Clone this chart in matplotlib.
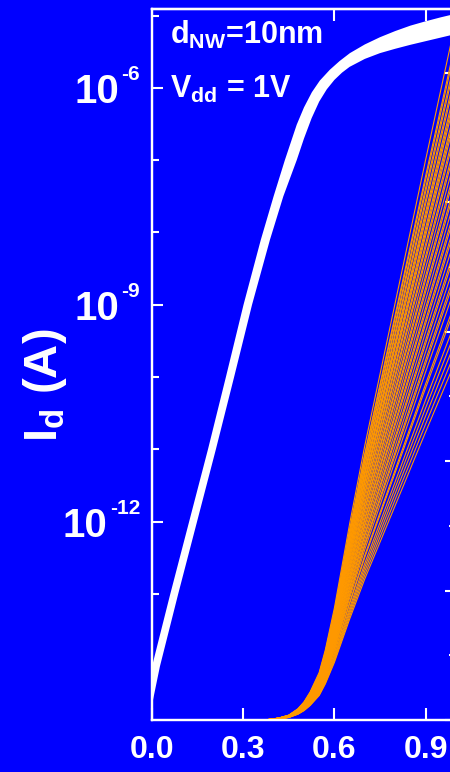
import numpy as np
import matplotlib
matplotlib.use('Agg')
import matplotlib.pyplot as plt
from matplotlib.ticker import FixedLocator, NullFormatter, MultipleLocator

plt.rcParams['font.family'] = ['Liberation Sans', 'DejaVu Sans']
plt.rcParams['font.weight'] = 'bold'
plt.rcParams['mathtext.fontset'] = 'custom'
plt.rcParams['mathtext.rm'] = 'Liberation Sans:bold'
plt.rcParams['mathtext.it'] = 'Liberation Sans:bold'
plt.rcParams['mathtext.bf'] = 'Liberation Sans:bold'
plt.rcParams['mathtext.sf'] = 'Liberation Sans:bold'
plt.rcParams['mathtext.default'] = 'bf'

BLUE = '#0000ff'
ORANGE = '#ff9900'

# ---- white band (log axis): upper and lower edge of the bundle of curves
upper_logI = [-14.0, -13.0, -12.0, -11.0, -10.0, -9.0, -8.1, -7.5, -7.0, -6.51,
              -6.27, -6.06, -5.90, -5.75, -5.63, -5.52, -5.40, -5.30, -5.215,
              -5.14, -5.08, -5.025, -4.975, -4.93]
upper_vg = [0.0, 0.060, 0.122, 0.184, 0.243, 0.301, 0.358, 0.400, 0.437, 0.476,
            0.500, 0.526, 0.552, 0.585, 0.617, 0.651, 0.700, 0.750, 0.800,
            0.850, 0.900, 0.950, 1.000, 1.050]
lower_logI = [-14.53, -14.0, -13.0, -12.0, -11.0, -10.0, -9.0, -8.1, -7.5, -7.0,
              -6.70, -6.42, -6.19, -6.02, -5.89, -5.79, -5.71, -5.60, -5.52,
              -5.46, -5.405, -5.355, -5.305, -5.255, -5.205]
lower_vg = [0.0, 0.026, 0.086, 0.148, 0.210, 0.270, 0.329, 0.388, 0.432, 0.476,
            0.500, 0.525, 0.550, 0.575, 0.600, 0.625, 0.650, 0.700, 0.750,
            0.800, 0.850, 0.900, 0.950, 1.000, 1.050]

# ---- orange curves (linear right axis): median curve and per-device scale
lin_vg = [0.0, 0.35, 0.38, 0.40, 0.42, 0.45, 0.48, 0.50, 0.52, 0.55, 0.57,
          0.60, 0.62, 0.65, 0.70, 0.80, 0.90, 1.00]
lin_id_median = [0.0, 0.0, 4.6e-9, 1.24e-8, 2.5e-8, 5.4e-8, 1.24e-7, 2.0e-7,
                 3.09e-7, 5.25e-7, 7.72e-7, 1.236e-6, 1.606e-6, 2.162e-6,
                 3.027e-6, 4.602e-6, 6.178e-6, 7.722e-6]
device_scale = [1.40, 1.36, 1.35, 1.33, 1.32, 1.30, 1.29, 1.27, 1.26, 1.25,
                1.23, 1.22, 1.21, 1.19, 1.18, 1.16, 1.15, 1.13, 1.11, 1.10,
                1.08, 1.07, 1.05, 1.03, 1.02, 1.00, 0.99, 0.97, 0.95, 0.94,
                0.92, 0.90, 0.89, 0.87, 0.84, 0.83, 0.80, 0.78, 0.76, 0.74,
                0.72]

x_ticks = [0.0, 0.3, 0.6, 0.9]
x_top_ticks = [0.6, 0.9]
y_major = [1e-12, 1e-9, 1e-6]
y_exponents = ['-12', '-9', '-6']
y_minor = [1e-14, 1e-13, 1e-11, 1e-10, 1e-8, 1e-7, 1e-5]

fig = plt.figure(figsize=(4.5, 7.72), dpi=100, facecolor=BLUE)
ax = fig.add_axes([152/450, 52/772, 304/450, 711/772])
ax.set_facecolor(BLUE)

band_x = np.r_[upper_vg, lower_vg[::-1]]
band_y = 10.0 ** np.r_[upper_logI, lower_logI[::-1]]
ax.fill(band_x, band_y, color='white', lw=0, zorder=3)

ax.set_yscale('log')
ax.set_xlim(0, 1.0)
ax.set_ylim(10 ** -14.74, 10 ** -4.91)

ax.yaxis.set_major_locator(FixedLocator(y_major))
ax.yaxis.set_major_formatter(NullFormatter())
ax.yaxis.set_minor_locator(FixedLocator(y_minor))
ax.yaxis.set_minor_formatter(NullFormatter())
ax.set_xticks(x_ticks)
ax.set_xticklabels(['%.1f' % v for v in x_ticks])

for sp in ax.spines.values():
    sp.set_color('white')
    sp.set_linewidth(1.6)

ax.tick_params(axis='both', which='both', direction='in', colors='white')
ax.tick_params(axis='x', which='major', length=8.5, width=1.5, pad=11,
               labelsize=23)
ax.tick_params(axis='y', which='major', length=8, width=1.5)
ax.tick_params(axis='y', which='minor', length=5, width=1.5)
for lab in ax.get_xticklabels():
    lab.set_fontweight('bold')

# decade labels: exponent right-aligned, "10" placed just left of it
exp_texts = []
for val, ex in zip(y_major, y_exponents):
    t = ax.annotate(ex, xy=(0, val), xycoords=ax.get_yaxis_transform(),
                    xytext=(-8.6, 5.8), textcoords='offset points',
                    color='white', fontsize=15, fontweight='bold',
                    ha='right', va='baseline', annotation_clip=False)
    exp_texts.append(t)
fig.canvas.draw()
renderer = fig.canvas.get_renderer()
spine_x = ax.transAxes.transform((0, 0))[0]
for val, t in zip(y_major, exp_texts):
    x0 = t.get_window_extent(renderer).x0
    off_pt = (x0 - spine_x - 2) * 72 / fig.dpi
    ax.annotate('10', xy=(0, val), xycoords=ax.get_yaxis_transform(),
                xytext=(off_pt, 0), textcoords='offset points',
                color='white', fontsize=29, fontweight='bold',
                ha='right', va='center_baseline', annotation_clip=False)

sec = ax.secondary_xaxis('top')
sec.set_xticks(x_top_ticks)
sec.tick_params(direction='in', length=8.5, width=1.5, colors='white',
                labeltop=False)
sec.spines['top'].set_color('white')
sec.spines['top'].set_linewidth(1.6)

# right linear axis for the orange curves
ax2 = ax.twinx()
vg = np.array(lin_vg)
idm = np.array(lin_id_median)
for s in device_scale:
    ax2.plot(vg, s * idm, color=ORANGE, lw=0.8, clip_on=False, zorder=2)
ax2.set_ylim(0, 711 / 129.5 * 2e-6)
ax2.yaxis.set_major_locator(MultipleLocator(2e-6))
ax2.yaxis.set_minor_locator(MultipleLocator(1e-6))
ax2.tick_params(axis='y', which='both', direction='in', colors='white',
                labelright=False)
ax2.tick_params(axis='y', which='major', length=8, width=1.5)
ax2.tick_params(axis='y', which='minor', length=5, width=1.5)
for sp in ax2.spines.values():
    sp.set_color('white')
    sp.set_linewidth(1.6)

ax.text(0.059, 0.951, r'd$_{\rm NW}$=10nm', transform=ax.transAxes,
        color='white', fontsize=22, fontweight='bold', va='baseline', zorder=5)
ax.text(0.059, 0.875, r'V$_{\rm dd}$ = 1V', transform=ax.transAxes,
        color='white', fontsize=22, fontweight='bold', va='baseline', zorder=5)

fig.text(45/450, 1 - 385/772, r'I$_{\rm d}$ (A)', rotation=90, color='white',
         fontsize=34, fontweight='bold', ha='center', va='center')

fig.savefig('out.png', dpi=100, facecolor=fig.get_facecolor())
